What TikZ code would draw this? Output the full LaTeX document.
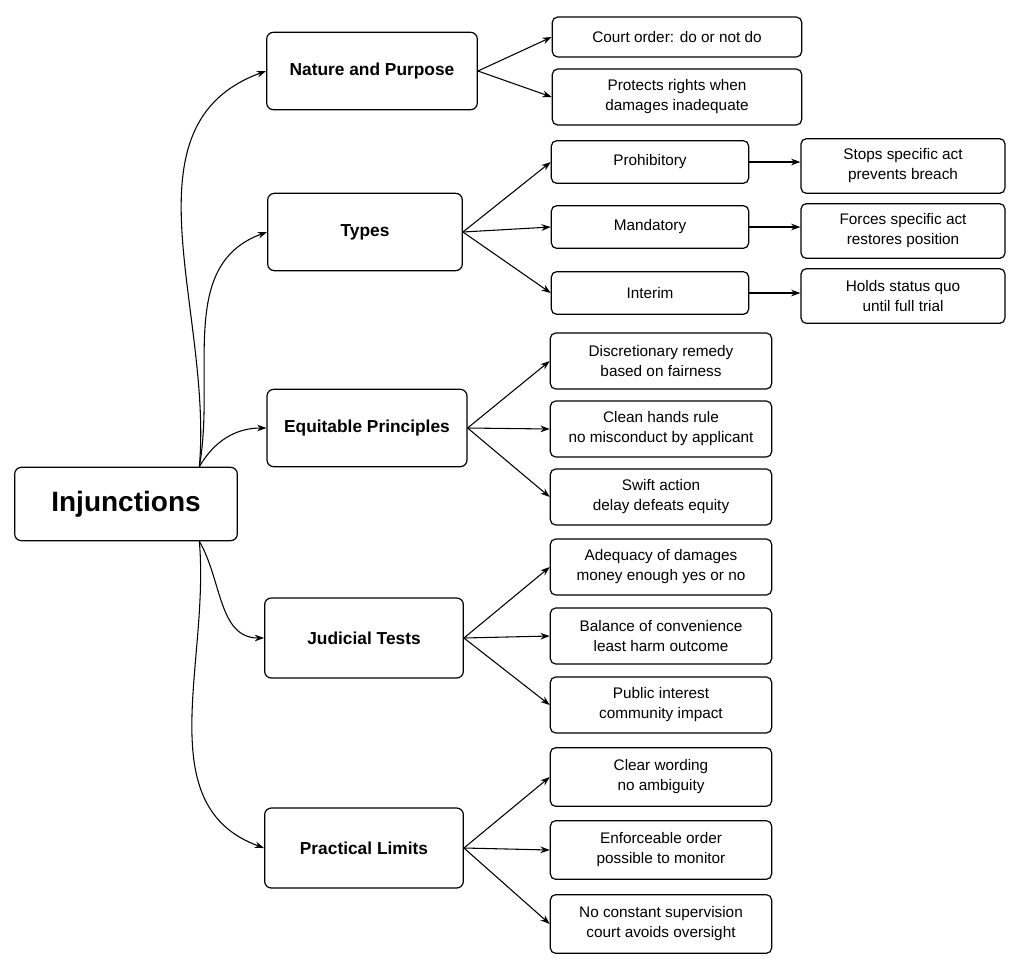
\documentclass[tikz,border=0pt]{standalone}
\usepackage{fontspec}
\setmainfont{Liberation Sans}
\usetikzlibrary{positioning,arrows.meta}

\begin{document}
\begin{tikzpicture}
                    [x=0.75pt, y=-0.75pt,
                    root/.style={rectangle, rounded corners=5pt, draw, line width=0.9pt,
                        minimum width=167pt, minimum height=55pt,
                        font=\fontsize{21}{24}\selectfont\bfseries},
                    cat/.style={rectangle, rounded corners=5pt, draw, line width=0.9pt,
                        minimum height=58pt, font=\fontsize{13}{15}\selectfont\bfseries},
                    leaf/.style={rectangle, rounded corners=4pt, draw, line width=0.9pt,
                        align=center, font=\fontsize{11.5}{15}\selectfont},
                    link/.style={-{Stealth[length=7pt,width=5pt]}, line width=0.8pt}]

                    \useasboundingbox (0,0) rectangle (1022,972);

                    % root and branches
                    \node[root] (inj) at (126,504) {Injunctions};
                    \node[cat, minimum width=158pt] (nat) at (372,71) {Nature and Purpose};
                    \node[cat, minimum width=146pt] (typ) at (365,232) {Types};
                    \node[cat, minimum width=150pt] (equ) at (367,428) {Equitable Principles};
                    \node[cat, minimum width=149pt, minimum height=60pt] (jud) at (364,638) {Judicial Tests};
                    \node[cat, minimum width=149pt, minimum height=60pt] (pra) at (364,848) {Practical Limits};

                    % leaves
                    \node[leaf, minimum width=187pt, minimum height=30pt] (ord) at (677,37) {Court order: do or not do};
                    \node[leaf, minimum width=187pt, minimum height=42pt] (pro) at (677,97) {Protects rights when\\damages inadequate};

                    \node[leaf, minimum width=148pt, minimum height=32pt] (phb) at (650,162) {Prohibitory};
                    \node[leaf, minimum width=148pt, minimum height=32pt] (man) at (650,227) {Mandatory};
                    \node[leaf, minimum width=148pt, minimum height=32pt] (int) at (650,293) {Interim};
                    \node[leaf, minimum width=153pt, minimum height=41pt] (sto) at (903,166) {Stops specific act\\prevents breach};
                    \node[leaf, minimum width=153pt, minimum height=41pt] (for) at (903,231) {Forces specific act\\restores position};
                    \node[leaf, minimum width=153pt, minimum height=41pt] (hol) at (903,296) {Holds status quo\\until full trial};

                    \node[leaf, minimum width=166pt, minimum height=42pt] (dis) at (661,361) {Discretionary remedy\\based on fairness};
                    \node[leaf, minimum width=166pt, minimum height=42pt] (cle) at (661,429) {Clean hands rule\\no misconduct by applicant};
                    \node[leaf, minimum width=166pt, minimum height=42pt] (swi) at (661,497) {Swift action\\delay defeats equity};

                    \node[leaf, minimum width=166pt, minimum height=42pt] (ade) at (661,567) {Adequacy of damages\\money enough yes or no};
                    \node[leaf, minimum width=166pt, minimum height=42pt] (bal) at (661,636) {Balance of convenience\\least harm outcome};
                    \node[leaf, minimum width=166pt, minimum height=42pt] (pub) at (661,705) {Public interest\\community impact};

                    \node[leaf, minimum width=166pt, minimum height=44pt] (wor) at (661,777) {Clear wording\\no ambiguity};
                    \node[leaf, minimum width=166pt, minimum height=44pt] (enf) at (661,850) {Enforceable order\\possible to monitor};
                    \node[leaf, minimum width=166pt, minimum height=44pt] (sup) at (661,924) {No constant supervision\\court avoids oversight};

                    % connectors from the root
                    \draw[link] ([xshift=55pt]inj.north) to[out=85, in=200] (nat.west);
                    \draw[link] ([xshift=55pt]inj.north) to[out=80, in=200] (typ.west);
                    \draw[link] ([xshift=55pt]inj.north) to[out=60, in=180] (equ.west);
                    \draw[link] ([xshift=55pt]inj.south) to[out=-60, in=180] (jud.west);
                    \draw[link] ([xshift=55pt]inj.south) to[out=-85, in=160] (pra.west);

                    \foreach \c/\l in {nat/ord, nat/pro, typ/phb, typ/man, typ/int,
                        equ/dis, equ/cle, equ/swi, jud/ade, jud/bal, jud/pub,
                        pra/wor, pra/enf, pra/sup}
                        \draw[link] (\c.east) -- (\l.west);
                    \foreach \a/\b in {phb/sto, man/for, int/hol}
                        \draw[link] (\a.east) -- (\b.west |- \a.east);
                \end{tikzpicture}
\end{document}
